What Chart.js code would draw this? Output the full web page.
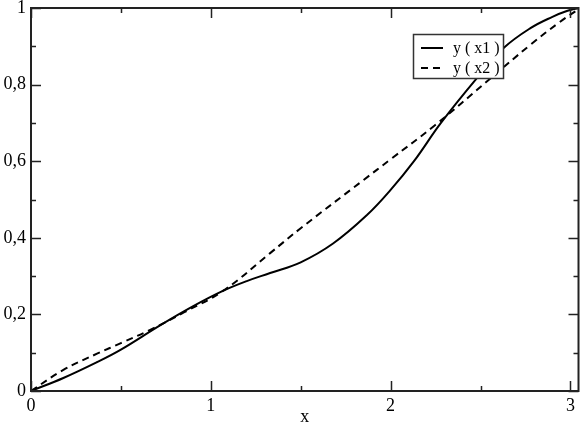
<!DOCTYPE html>
<html>
<head>
<meta charset="utf-8">
<script src="https://cdn.jsdelivr.net/npm/chart.js@4.4.0/dist/chart.umd.min.js"></script>
<style>
  html, body { margin: 0; padding: 0; background: #fff; }
  #wrap { width: 581px; height: 426px; }
</style>
</head>
<body>
<div id="wrap"><canvas id="chart" width="581" height="426"></canvas></div>
<script>
// values
const x1 = [0, 0.18, 0.37, 0.5, 0.72, 0.9, 1.07, 1.2, 1.33, 1.5, 1.68, 1.87, 2.0, 2.13, 2.28, 2.48, 2.63, 2.78, 2.9, 2.98, 3.045];
const y1 = [0, 0.034, 0.076, 0.108, 0.172, 0.221, 0.262, 0.287, 0.308, 0.336, 0.385, 0.46, 0.525, 0.6, 0.7, 0.817, 0.896, 0.948, 0.977, 0.992, 1.0];
const x2 = [0, 0.18, 0.37, 0.5, 0.66, 0.85, 1.07, 1.33, 1.5, 1.85, 2.0, 2.25, 2.54, 2.78, 2.94, 3.045];
const y2 = [0, 0.055, 0.098, 0.125, 0.159, 0.205, 0.262, 0.36, 0.425, 0.551, 0.605, 0.695, 0.81, 0.905, 0.963, 0.997];
const seriesLabels = ['y ( x1 )', 'y ( x2 )'];

const xTicks = [0, 1, 2, 3];
const xMinorTicks = [0.5, 1.5, 2.5];
const yTicks = [0, 0.2, 0.4, 0.6, 0.8, 1];
const yMinorTicks = [0.1, 0.3, 0.5, 0.7, 0.9];
const xMax = 3.045;

const FONT = 'Liberation Serif';
const dashes = [[], [7, 5]];

// frame + inward ticks on all four sides, xmgrace style
const framePlugin = {
  id: 'frame',
  afterDatasetsDraw(chart) {
    const { ctx, chartArea: a, scales } = chart;
    const sx = scales.x, sy = scales.y;
    ctx.save();
    ctx.strokeStyle = '#222';
    ctx.lineWidth = 1.5;
    ctx.beginPath();
    const tick = (vals, len) => {
      vals.forEach(v => {
        const px = Math.round(sx.getPixelForValue(v)) + 0.5;
        ctx.moveTo(px, a.bottom); ctx.lineTo(px, a.bottom - len);
        ctx.moveTo(px, a.top); ctx.lineTo(px, a.top + len);
      });
    };
    const tickY = (vals, len) => {
      vals.forEach(v => {
        const py = Math.round(sy.getPixelForValue(v)) + 0.5;
        ctx.moveTo(a.left, py); ctx.lineTo(a.left + len, py);
        ctx.moveTo(a.right, py); ctx.lineTo(a.right - len, py);
      });
    };
    tick(xTicks, 10); tick(xMinorTicks, 5);
    tickY(yTicks, 10); tickY(yMinorTicks, 5);
    ctx.stroke();
    ctx.lineWidth = 2;
    ctx.strokeRect(a.left, a.top, a.right - a.left, a.bottom - a.top);
    ctx.restore();
  }
};

// boxed legend inside the plot, top right
const legendPlugin = {
  id: 'boxLegend',
  afterDraw(chart) {
    const ctx = chart.ctx;
    const bx = 413, by = 34, bw = 90, bh = 44;
    ctx.save();
    ctx.fillStyle = '#fff';
    ctx.fillRect(bx, by, bw, bh);
    ctx.strokeStyle = '#333';
    ctx.lineWidth = 1.5;
    ctx.strokeRect(bx + 0.5, by + 0.5, bw, bh);
    ctx.font = '16px "' + FONT + '"';
    ctx.textBaseline = 'middle';
    ctx.fillStyle = '#000';
    chart.data.datasets.forEach((ds, i) => {
      const yy = by + 14 + i * 20;
      ctx.strokeStyle = '#000';
      ctx.lineWidth = 2;
      ctx.setLineDash(ds.borderDash || []);
      ctx.beginPath();
      ctx.moveTo(421, yy); ctx.lineTo(443, yy);
      ctx.stroke();
      ctx.setLineDash([]);
      ctx.fillText(ds.label, 453, yy + 1);
    });
    ctx.restore();
  }
};

const toPts = (xs, ys) => xs.map((x, i) => ({ x: x, y: ys[i] }));

new Chart(document.getElementById('chart'), {
  type: 'scatter',
  data: {
    datasets: [
      { label: seriesLabels[0], data: toPts(x1, y1) },
      { label: seriesLabels[1], data: toPts(x2, y2) }
    ].map((d, i) => Object.assign(d, {
      showLine: true,
      borderColor: '#000',
      borderWidth: 2,
      borderDash: dashes[i],
      pointRadius: 0,
      tension: 0.4,
      fill: false
    }))
  },
  options: {
    responsive: false,
    animation: false,
    devicePixelRatio: 1,
    layout: { padding: { top: 8, right: 2.5, left: 0, bottom: 0 } },
    plugins: { legend: { display: false }, tooltip: { enabled: false } },
    scales: {
      x: {
        type: 'linear',
        min: 0,
        max: xMax,
        afterBuildTicks: s => { s.ticks = xTicks.map(v => ({ value: v })); },
        afterFit: s => { s.height = 35; s.paddingLeft = 0; s.paddingRight = 0; },
        grid: { display: false, drawTicks: false },
        border: { display: false },
        ticks: { padding: 4, color: '#000', font: { family: FONT, size: 18 } },
        title: {
          display: true, text: 'x', color: '#000',
          font: { family: FONT, size: 18, lineHeight: 1 },
          padding: { top: 0, bottom: 0 }
        }
      },
      y: {
        type: 'linear',
        min: 0,
        max: 1,
        afterBuildTicks: s => { s.ticks = yTicks.map(v => ({ value: v })); },
        afterFit: s => { s.width = 31; s.paddingTop = 0; s.paddingBottom = 0; },
        grid: { display: false, drawTicks: false },
        border: { display: false },
        ticks: {
          padding: 5, color: '#000', font: { family: FONT, size: 18 },
          callback: v => String(v).replace('.', ',')
        }
      }
    }
  },
  plugins: [framePlugin, legendPlugin]
});
</script>
</body>
</html>
